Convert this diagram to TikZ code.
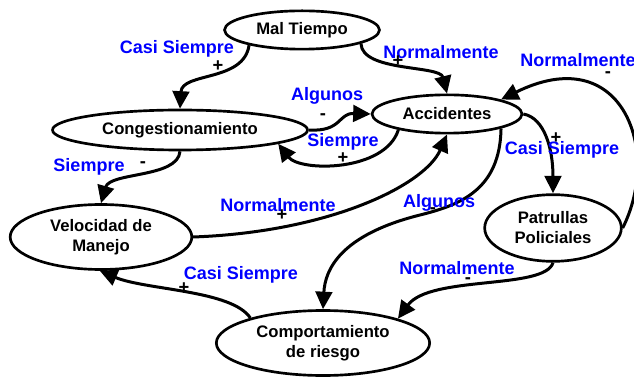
\documentclass[tikz,border=0pt]{standalone}
\usepackage{fontspec}
\setmainfont{Liberation Sans}
\usetikzlibrary{arrows.meta}
\usetikzlibrary{shapes.geometric}

\begin{document}
\begin{tikzpicture}[x=.6pt, y=-.6pt,
  bubble/.style={draw, ellipse, line width=1.6pt, inner sep=0pt, align=center, font=\fontsize{10}{12}\selectfont\bfseries},
  rel/.style={line width=1.8pt, -{Triangle[length=10.5pt,width=10pt]}},
  lbl/.style={blue, inner sep=0pt, font=\fontsize{10.8}{12}\selectfont\bfseries},
  sgn/.style={inner sep=0pt, font=\fontsize{11}{12}\selectfont\bfseries}]
\useasboundingbox[fill=white] (0,0) rectangle (634,379);

\node[bubble, minimum width=93pt, minimum height=23pt] (mal) at (302,30) {Mal Tiempo};
\node[bubble, minimum width=153pt, minimum height=24pt] (cong) at (180,130) {Congestionamiento};
\node[bubble, minimum width=90pt, minimum height=23pt] (acc) at (447,114) {Accidentes};
\node[bubble, minimum width=109pt, minimum height=39pt] (vel) at (101,237) {Velocidad de\\Manejo};
\node[bubble, minimum width=82pt, minimum height=40pt] (pat) at (553,228) {Patrullas\\Policiales};
\node[bubble, minimum width=128pt, minimum height=39pt] (comp) at (323,343) {Comportamiento\\de riesgo};

\draw[rel] (mal.196) .. controls (244,82) and (182,72) .. (cong.north);
\draw[rel] (mal.347) .. controls (362,72) and (440,65) .. (acc.north);
\draw[rel] (cong.east) .. controls (342,132) and (338,113) .. (acc.west);
\draw[rel] (acc.198) .. controls (385,172) and (300,172) .. (cong.352);
\draw[rel] (cong.south) .. controls (178,178) and (110,172) .. (vel.north);
\draw[rel] (vel.east) .. controls (330,232) and (425,185) .. (acc.south);
\draw[rel] (acc.345) .. controls (500,190) and (460,205) .. (420,215) .. controls (340,235) and (325,270) .. (comp.north);
\draw[rel] (acc.east) .. controls (545,118) and (553,150) .. (pat.north);
\draw[rel] (pat.east) .. controls (662,150) and (622,40) .. (acc.15);
\draw[rel] (pat.south) .. controls (545,290) and (430,275) .. (comp.18);
\draw[rel] (comp.161) .. controls (232,290) and (145,290) .. (vel.268);

\node[lbl] (l1) at (177,49) {Casi Siempre};
\node[sgn] (s1) at (218,66) {+};
\node[lbl] (l2) at (441,52) {Normalmente};
\node[sgn] (s2) at (398,61) {+};
\node[lbl] (l3) at (327,96) {Algunos};
\node[sgn] (s3) at (323,117) {-};
\node[lbl] (l4) at (343,142) {Siempre};
\node[sgn] (s4) at (343,158) {+};
\node[lbl] (l5) at (89,167) {Siempre};
\node[sgn] (s5) at (143,165) {-};
\node[lbl] (l6) at (278,205) {Normalmente};
\node[sgn] (s6) at (282,215) {+};
\node[lbl] (l7) at (439,203) {Algunos};
\node[sgn] (s7) at (433,211) {-};
\node[lbl] (l8) at (562,150) {Casi Siempre};
\node[sgn] (s8) at (556,138) {+};
\node[lbl] (l9) at (578,60) {Normalmente};
\node[sgn] (s9) at (608,75) {-};
\node[lbl] (l10) at (457,268) {Normalmente};
\node[sgn] (s10) at (468,281) {-};
\node[lbl] (l11) at (241,275) {Casi Siempre};
\node[sgn] (s11) at (184,288) {+};
\end{tikzpicture}
\end{document}
